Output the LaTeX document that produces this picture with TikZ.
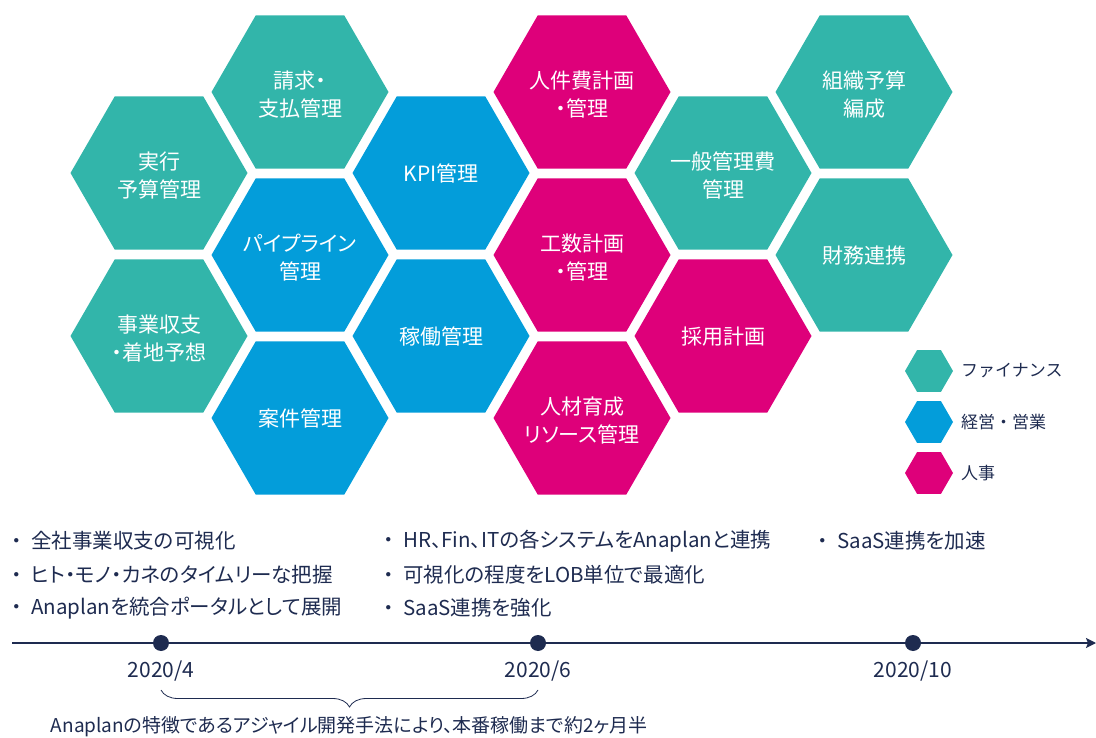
\documentclass[tikz,border=0pt]{standalone}
\usepackage{fontspec}
\setmainfont{Noto Sans CJK JP}[RawFeature=+palt]
\newfontfamily\plainfont{Noto Sans CJK JP}
\usetikzlibrary{shapes.geometric,arrows.meta,decorations.pathreplacing}
\definecolor{fin}{RGB}{50,181,170}
\definecolor{biz}{RGB}{3,157,218}
\definecolor{hrc}{RGB}{222,0,122}
\definecolor{navy}{RGB}{30,43,80}
\begin{document}
\begin{tikzpicture}[x=1pt,y=-1pt,
  hexa/.style={regular polygon, regular polygon sides=6, minimum size=177pt, inner sep=0pt},
  hextext/.style={text=white, font=\fontsize{21}{28.5}\selectfont, align=center, inner sep=0pt},
  leghex/.style={regular polygon, regular polygon sides=6, minimum size=48pt, inner sep=0pt},
  legtext/.style={anchor=west, text=navy, font=\plainfont\fontsize{17}{20}\selectfont, inner sep=0pt},
  bullet/.style={anchor=west, text=navy, font=\fontsize{20.5}{24}\selectfont, inner sep=0pt},
  datelbl/.style={text=navy, font=\fontsize{21}{24}\selectfont, inner sep=0pt},
  tdot/.style={circle, fill=navy, minimum size=16pt, inner sep=0pt}
]
\useasboundingbox (0,0) rectangle (1096,738);

% column 1
\node[hexa, fill=fin] (h11) at (159,173) {};
\node[hexa, fill=fin] (h12) at (159,336) {};
% column 2
\node[hexa, fill=fin] (h21) at (300,92) {};
\node[hexa, fill=biz] (h22) at (300,255) {};
\node[hexa, fill=biz] (h23) at (300,418) {};
% column 3
\node[hexa, fill=biz] (h31) at (441,173) {};
\node[hexa, fill=biz] (h32) at (441,336) {};
% column 4
\node[hexa, fill=hrc] (h41) at (582,92) {};
\node[hexa, fill=hrc] (h42) at (582,255) {};
\node[hexa, fill=hrc] (h43) at (582,418) {};
% column 5
\node[hexa, fill=fin] (h51) at (723,173) {};
\node[hexa, fill=hrc] (h52) at (723,336) {};
% column 6
\node[hexa, fill=fin] (h61) at (864,92) {};
\node[hexa, fill=fin] (h62) at (864,255) {};

% hexagon labels
\node[hextext] (h11t) at ([yshift=-2.5pt]h11.center) {実行\\予算管理};
\node[hextext] (h12t) at ([yshift=-2.5pt]h12.center) {事業収支\\・着地予想};
\node[hextext] (h21t) at ([yshift=-2.5pt]h21.center) {請求・\\支払管理};
\node[hextext] (h22t) at ([yshift=-2.5pt]h22.center) {パイプライン\\管理};
\node[hextext] (h23t) at ([yshift=-0.5pt]h23.center) {案件管理};
\node[hextext] (h31t) at ([yshift=-0.5pt]h31.center) {KPI管理};
\node[hextext] (h32t) at ([yshift=-0.5pt]h32.center) {稼働管理};
\node[hextext] (h41t) at ([yshift=-2.5pt]h41.center) {人件費計画\\・管理};
\node[hextext] (h42t) at ([yshift=-2.5pt]h42.center) {工数計画\\・管理};
\node[hextext] (h43t) at ([yshift=-2.5pt]h43.center) {人材育成\\リソース管理};
\node[hextext] (h51t) at ([yshift=-2.5pt]h51.center) {一般管理費\\管理};
\node[hextext] (h52t) at ([yshift=-0.5pt]h52.center) {採用計画};
\node[hextext] (h61t) at ([yshift=-2.5pt]h61.center) {組織予算\\編成};
\node[hextext] (h62t) at ([yshift=-0.5pt]h62.center) {財務連携};

% legend
\node[leghex, fill=fin] (l1) at (929,371) {};
\node[leghex, fill=biz] (l2) at (929,422) {};
\node[leghex, fill=hrc] (l3) at (929,473) {};
\node[legtext] (lt1) at (961,371) {ファイナンス};
\node[legtext] (lt2) at (961,422) {経営・営業};
\node[legtext] (lt3) at (961,473) {人事};

% bullets
\node[bullet] (b11) at (6,541) {{\plainfont ・} 全社事業収支の可視化};
\node[bullet] (b12) at (6,575) {{\plainfont ・} ヒト・モノ・カネのタイムリーな把握};
\node[bullet] (b13) at (6,608) {{\plainfont ・} Anaplanを統合ポータルとして展開};
\node[bullet] (b21) at (378,541) {{\plainfont ・} HR、Fin、ITの各システムをAnaplanと連携};
\node[bullet] (b22) at (378,575) {{\plainfont ・} 可視化の程度をLOB単位で最適化};
\node[bullet] (b23) at (378,608) {{\plainfont ・} SaaS連携を強化};
\node[bullet] (b31) at (812,541) {{\plainfont ・} SaaS連携を加速};

% timeline
\coordinate (t0) at (12,643);
\coordinate (t1) at (1096,643);
\draw[navy, line width=1.8pt, -{Stealth[length=10pt,width=10pt,inset=2pt]}] (t0) -- (t1);
\node[tdot] (d1) at (161,643) {};
\node[tdot] (d2) at (538,643) {};
\node[tdot] (d3) at (913,643) {};
\node[datelbl] (y1) at (161,671) {2020/4};
\node[datelbl] (y2) at (538,671) {2020/6};
\node[datelbl] (y3) at (913,671) {2020/10};

% brace
\coordinate (bs) at (161,690);
\coordinate (be) at (538,690);
\draw[navy, line width=0.8pt, decorate, decoration={brace, mirror, amplitude=17pt}] (bs) -- (be);
\node[text=navy, font=\fontsize{19}{22}\selectfont, inner sep=0pt] (cap) at (349,727)
  {Anaplanの特徴であるアジャイル開発手法により、本番稼働まで約2ヶ月半};
\end{tikzpicture}
\end{document}
